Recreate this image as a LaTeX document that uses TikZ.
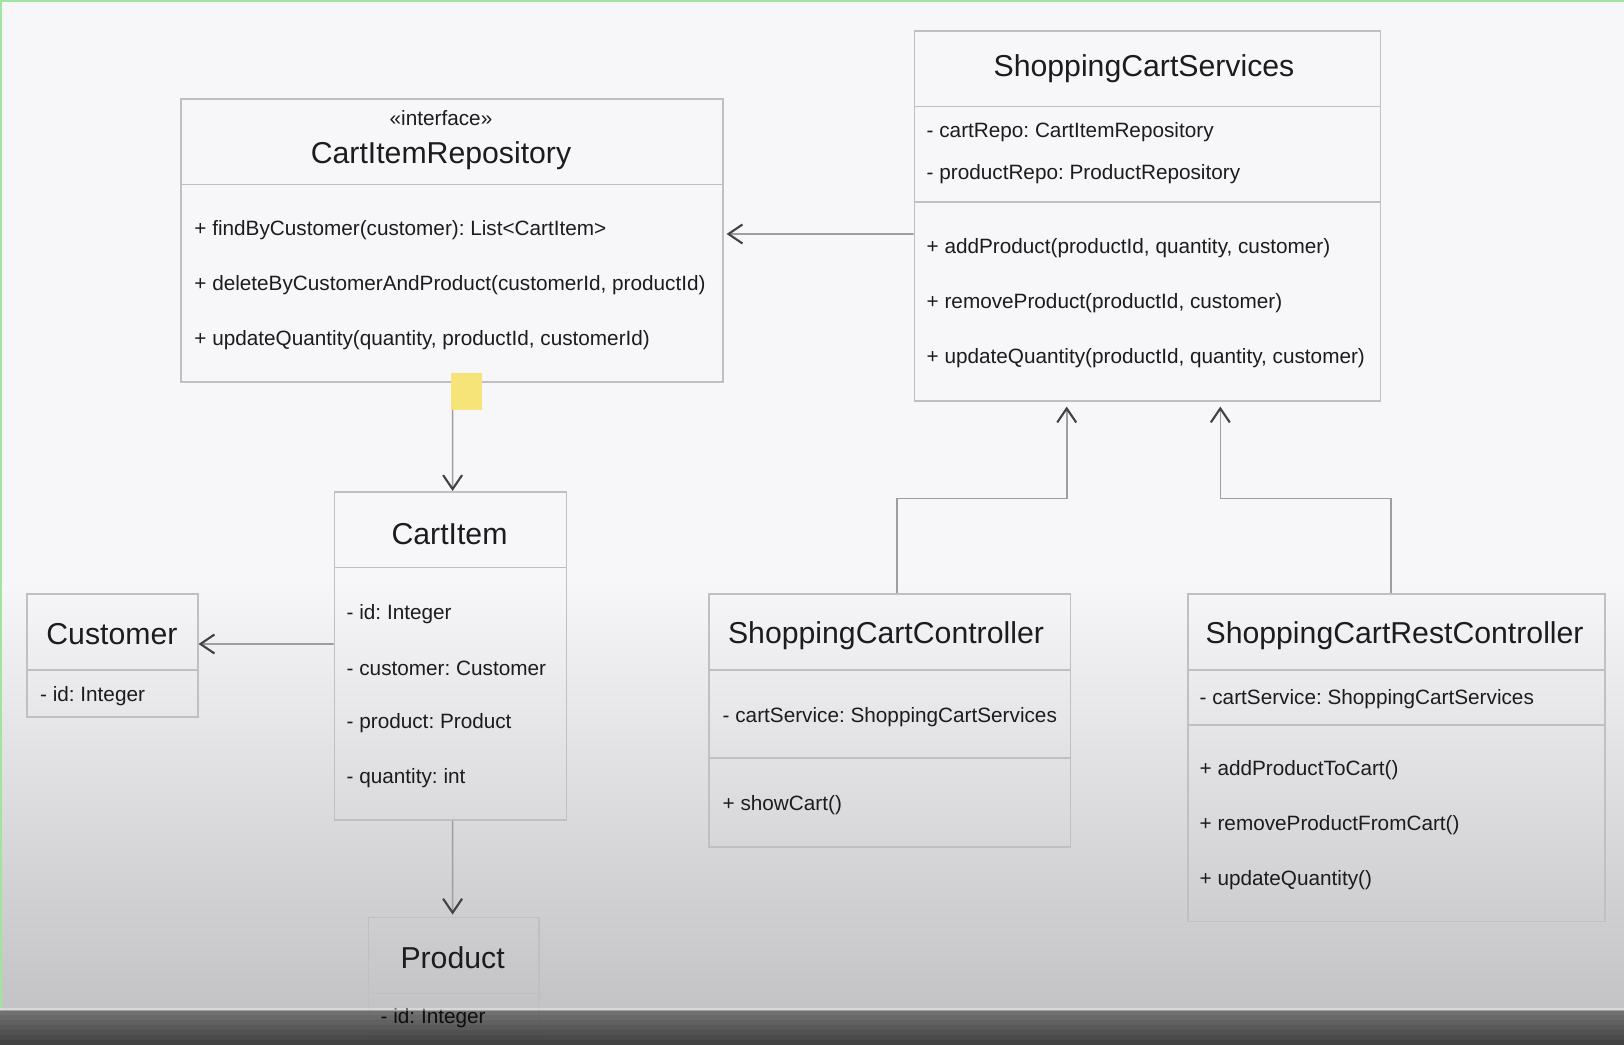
\documentclass[tikz,border=0pt]{standalone}
\usepackage{fontspec}
\setmainfont{Liberation Sans}
\usetikzlibrary{arrows.meta,positioning}
\definecolor{bgtop}{RGB}{247,246,249}
\definecolor{bglow}{RGB}{195,195,197}
\definecolor{boxline}{RGB}{192,192,195}
\definecolor{linkline}{RGB}{158,158,160}
\definecolor{tipdark}{RGB}{66,66,68}
\definecolor{textdark}{RGB}{28,28,32}
\definecolor{marker}{RGB}{246,228,120}
\definecolor{framegreen}{RGB}{160,228,160}
\frenchspacing

\begin{document}
\begin{tikzpicture}[x=0.1mm,y=-0.1mm]
\tikzstyle{every node}+=[inner sep=0pt]
\tikzstyle{classbox}=[draw=boxline, line width=0.45pt, rectangle, anchor=north west]
\tikzstyle{divider}=[draw=boxline, line width=0.45pt]
\tikzstyle{classname}=[text=textdark, font=\fontsize{8.6}{10}\selectfont]
\tikzstyle{stereo}=[text=textdark, font=\fontsize{5.9}{7}\selectfont]
\tikzstyle{member}=[text=textdark, anchor=west, font=\fontsize{5.9}{7}\selectfont]
\tikzstyle{assoc}=[draw=linkline, line width=0.45pt, -{Straight Barb[length=1.4mm,width=1.9mm,line width=0.6pt,color=tipdark]}]
\useasboundingbox (0,0) rectangle (1624,1045);
% background
\fill[bgtop] (0,0) rectangle (1624,580);
\shade[top color=bgtop, bottom color=bglow] (0,579) rectangle (1624,1010);
\fill[bglow] (0,1009) rectangle (1624,1045);
\draw[framegreen, line width=0.2mm] (0,1) -- (1624,1);
\draw[framegreen, line width=0.2mm] (1,0) -- (1,1010);

% CartItemRepository
\node[classbox, minimum width=54.2mm, minimum height=28.3mm] (repo) at (180,98.4) {};
\draw[divider] ([yshift=-8.6mm]repo.north west) -- ([yshift=-8.6mm]repo.north east);
\node[stereo] (repo-stereo) at (441,118.5) {«interface»};
\node[classname] (repo-name) at (441,156) {CartItemRepository};
\node[member] (repo-m1) at (193.7,230) {+ findByCustomer(customer): List<CartItem>};
\node[member] (repo-m2) at (193.7,284.8) {+ deleteByCustomerAndProduct(customerId, productId)};
\node[member] (repo-m3) at (193.7,339.7) {+ updateQuantity(quantity, productId, customerId)};

% ShoppingCartServices
\node[classbox, minimum width=46.6mm, minimum height=37mm] (services) at (913.5,30) {};
\draw[divider] ([yshift=-7.67mm]services.north west) -- ([yshift=-7.67mm]services.north east);
\draw[divider] ([yshift=-17.2mm]services.north west) -- ([yshift=-17.2mm]services.north east);
\node[classname] (services-name) at (1144,69) {ShoppingCartServices};
\node[member] (services-a1) at (926,132.6) {- cartRepo: CartItemRepository};
\node[member] (services-a2) at (926,174) {- productRepo: ProductRepository};
\node[member] (services-m1) at (926,248.6) {+ addProduct(productId, quantity, customer)};
\node[member] (services-m2) at (926,303.5) {+ removeProduct(productId, customer)};
\node[member] (services-m3) at (926,358.4) {+ updateQuantity(productId, quantity, customer)};

% CartItem
\node[classbox, minimum width=23.2mm, minimum height=32.8mm] (cart) at (333.5,491) {};
\draw[divider] ([yshift=-7.66mm]cart.north west) -- ([yshift=-7.66mm]cart.north east);
\node[classname] (cart-name) at (449.5,534) {CartItem};
\node[member] (cart-a1) at (346,614.2) {- id: Integer};
\node[member] (cart-a2) at (346,668.1) {- customer: Customer};
\node[member] (cart-a3) at (346,723) {- product: Product};
\node[member] (cart-a4) at (346,777.8) {- quantity: int};

% Customer
\node[classbox, minimum width=17.1mm, minimum height=12.3mm] (customer) at (26,593.5) {};
\draw[divider] ([yshift=-7.66mm]customer.north west) -- ([yshift=-7.66mm]customer.north east);
\node[classname] (customer-name) at (111.9,634.5) {Customer};
\node[member] (customer-a1) at (39.4,696) {- id: Integer};

% Product
\node[classbox, minimum width=17.06mm, minimum height=12.1mm] (product) at (367.7,916.6) {};
\draw[divider] ([yshift=-7.67mm]product.north west) -- ([yshift=-7.67mm]product.north east);
\node[classname] (product-name) at (452.6,957.5) {Product};
\node[member] (product-a1) at (380,1018) {- id: Integer};

% ShoppingCartController
\node[classbox, minimum width=36.15mm, minimum height=25.27mm] (ctrl) at (708.4,593.5) {};
\draw[divider] ([yshift=-7.66mm]ctrl.north west) -- ([yshift=-7.66mm]ctrl.north east);
\draw[divider] ([yshift=-16.46mm]ctrl.north west) -- ([yshift=-16.46mm]ctrl.north east);
\node[classname] (ctrl-name) at (886,635.5) {ShoppingCartController};
\node[member] (ctrl-a1) at (722,716.7) {- cartService: ShoppingCartServices};
\node[member] (ctrl-m1) at (722,804.8) {+ showCart()};

% ShoppingCartRestController
\node[classbox, minimum width=41.74mm, minimum height=32.73mm] (rest) at (1186.9,593.5) {};
\draw[divider] ([yshift=-7.66mm]rest.north west) -- ([yshift=-7.66mm]rest.north east);
\draw[divider] ([yshift=-13.15mm]rest.north west) -- ([yshift=-13.15mm]rest.north east);
\node[classname] (rest-name) at (1394.6,635.5) {ShoppingCartRestController};
\node[member] (rest-a1) at (1199,699) {- cartService: ShoppingCartServices};
\node[member] (rest-m1) at (1199,770.6) {+ addProductToCart()};
\node[member] (rest-m2) at (1199,825.5) {+ removeProductFromCart()};
\node[member] (rest-m3) at (1199,880.4) {+ updateQuantity()};

% connectors
\draw[assoc, shorten >=0.3mm] ([yshift=-20.4mm]services.north west) -- ([yshift=-13.56mm]repo.north east);
\draw[assoc] ([xshift=27.26mm]repo.south west) -- ([xshift=11.91mm]cart.north west);
\draw[assoc, shorten >=0.2mm] ([xshift=11.91mm]cart.south west) -- ([xshift=8.49mm]product.north west);
\draw[assoc] ([yshift=-15.3mm]cart.north west) -- ([yshift=-5.05mm]customer.north east);
\draw[assoc, shorten >=0.5mm] ([xshift=18.86mm]ctrl.north west) -- ++(0,-95.2) -| ([xshift=15.32mm]services.south west);
\draw[assoc, shorten >=0.5mm] ([xshift=20.41mm]rest.north west) -- ++(0,-95.2) -| ([xshift=30.68mm]services.south west);

% highlight
\fill[marker] (450.5,372.9) rectangle (481.6,410.1);

% bottom band
\foreach \i in {0,...,6}
  \fill[black, opacity=0.42+0.04*\i] (0,1010+5*\i) rectangle (1624,1015+5*\i);
\fill[white, opacity=0.35] (0,1008) rectangle (1624,1011);
\end{tikzpicture}
\end{document}
